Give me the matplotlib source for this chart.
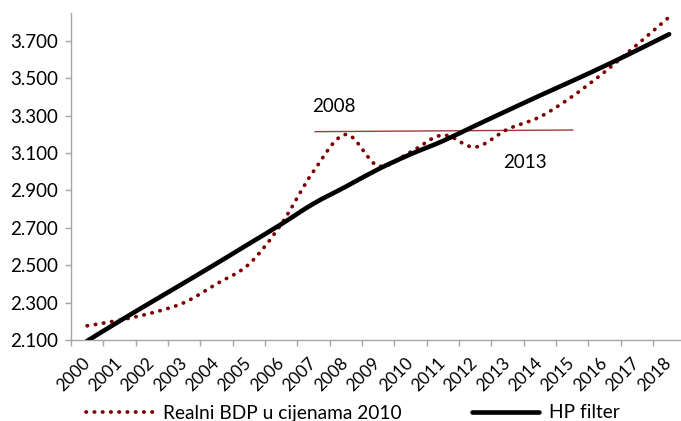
import numpy as np
import matplotlib
matplotlib.use("Agg")
import matplotlib.pyplot as plt
from matplotlib.path import Path
from matplotlib.patches import PathPatch
from matplotlib.lines import Line2D
from matplotlib.ticker import FixedLocator, FuncFormatter

plt.rcParams["font.family"] = ["Lato", "DejaVu Sans"]

# ---------------------------
# data
# ---------------------------
years = list(range(2000, 2019))
real_gdp = [2176, 2206, 2245, 2300, 2400, 2505, 2719, 3002, 3199, 3031,
            3105, 3196, 3132, 3227, 3293, 3402, 3533, 3678, 3827]
hp_filter = [2095, 2201, 2304, 2406, 2509, 2614, 2719, 2829, 2920, 3013,
             3093, 3164, 3246, 3327, 3407, 3485, 3565, 3649, 3735]
y_ticks = [2100, 2300, 2500, 2700, 2900, 3100, 3300, 3500, 3700]
series_names = ["Realni BDP u cijenama 2010", "HP filter"]

# reference line between 2007 and 2015 + the two year notes
ref_years = [2007.05, 2015.02]
ref_values = [3214, 3223]
note_labels = ["2008", "2013"]
note_years = [2007.63, 2013.53]
note_values = [3346, 3049]

RED = "#800000"
REF_RED = "#a33a3a"
GRAY = "#a6a6a6"
FS = 13.5


def smooth_path(xs, ys):
    # excel style smoothed line: bezier through every point
    pts = np.column_stack([xs, ys]).astype(float)
    n = len(pts)
    verts = [pts[0]]
    codes = [Path.MOVETO]
    for i in range(n - 1):
        p0 = pts[max(i - 1, 0)]
        p1 = pts[i]
        p2 = pts[i + 1]
        p3 = pts[min(i + 2, n - 1)]
        verts += [p1 + (p2 - p0) / 6, p2 - (p3 - p1) / 6, p2]
        codes += [Path.CURVE4] * 3
    return Path(verts, codes)


x = np.arange(len(years))

fig = plt.figure(figsize=(6.81, 4.21), dpi=100)
ax = fig.add_axes([71 / 681, 81 / 421, 614.3 / 681, 326.7 / 421])

dots = (0, (0.1, 2.1))
ax.add_patch(PathPatch(smooth_path(x, real_gdp), fill=False, edgecolor=RED,
                       lw=2.7, linestyle=dots, capstyle="round", zorder=3))
ax.add_patch(PathPatch(smooth_path(x, hp_filter), fill=False, edgecolor="black",
                       lw=3.3, capstyle="round", zorder=4))

ax.plot([yr - years[0] for yr in ref_years], ref_values, color=REF_RED, lw=1.0, zorder=2)
for lab, yr, v in zip(note_labels, note_years, note_values):
    ax.text(yr - years[0], v, lab, fontsize=13.5, ha="center", va="center")

ax.set_xlim(-0.5, len(years) - 0.5)
ax.set_ylim(2100, 3847)

# axes styling
for s in ["top", "right"]:
    ax.spines[s].set_visible(False)
for s in ["left", "bottom"]:
    ax.spines[s].set_color(GRAY)
    ax.spines[s].set_linewidth(1.0)

ax.yaxis.set_major_locator(FixedLocator(y_ticks))
ax.yaxis.set_major_formatter(FuncFormatter(lambda v, _: f"{v:,.0f}".replace(",", ".")))
ax.tick_params(axis="y", direction="out", length=4.5, width=1.0, color=GRAY,
               labelsize=FS, pad=5)

ax.xaxis.set_major_locator(FixedLocator(np.arange(-0.5, len(years), 1.0)))
ax.xaxis.set_major_formatter(FuncFormatter(lambda v, _: ""))
ax.xaxis.set_minor_locator(FixedLocator(x))
ax.xaxis.set_minor_formatter(FuncFormatter(lambda v, _: str(years[int(round(v))])))
ax.tick_params(axis="x", which="major", direction="out", length=4.5, width=1.0, color=GRAY)
ax.tick_params(axis="x", which="minor", length=0, labelsize=12.3, pad=15)
for lab in ax.xaxis.get_minorticklabels():
    lab.set_rotation(45)
    lab.set_ha("right")
    lab.set_va("center")
    lab.set_rotation_mode("anchor")

# legend below the chart
handles = [
    Line2D([], [], color=RED, lw=2.7, linestyle=dots, dash_capstyle="round"),
    Line2D([], [], color="black", lw=3.3, solid_capstyle="round"),
]
fig.legend(handles, series_names, loc="center left", bbox_to_anchor=(86 / 681, 8 / 421),
           ncol=2, frameon=False, fontsize=13.8, handlelength=3.5, handletextpad=0.5,
           columnspacing=3.7, borderpad=0, borderaxespad=0)

fig.savefig("out.png", dpi=100)
